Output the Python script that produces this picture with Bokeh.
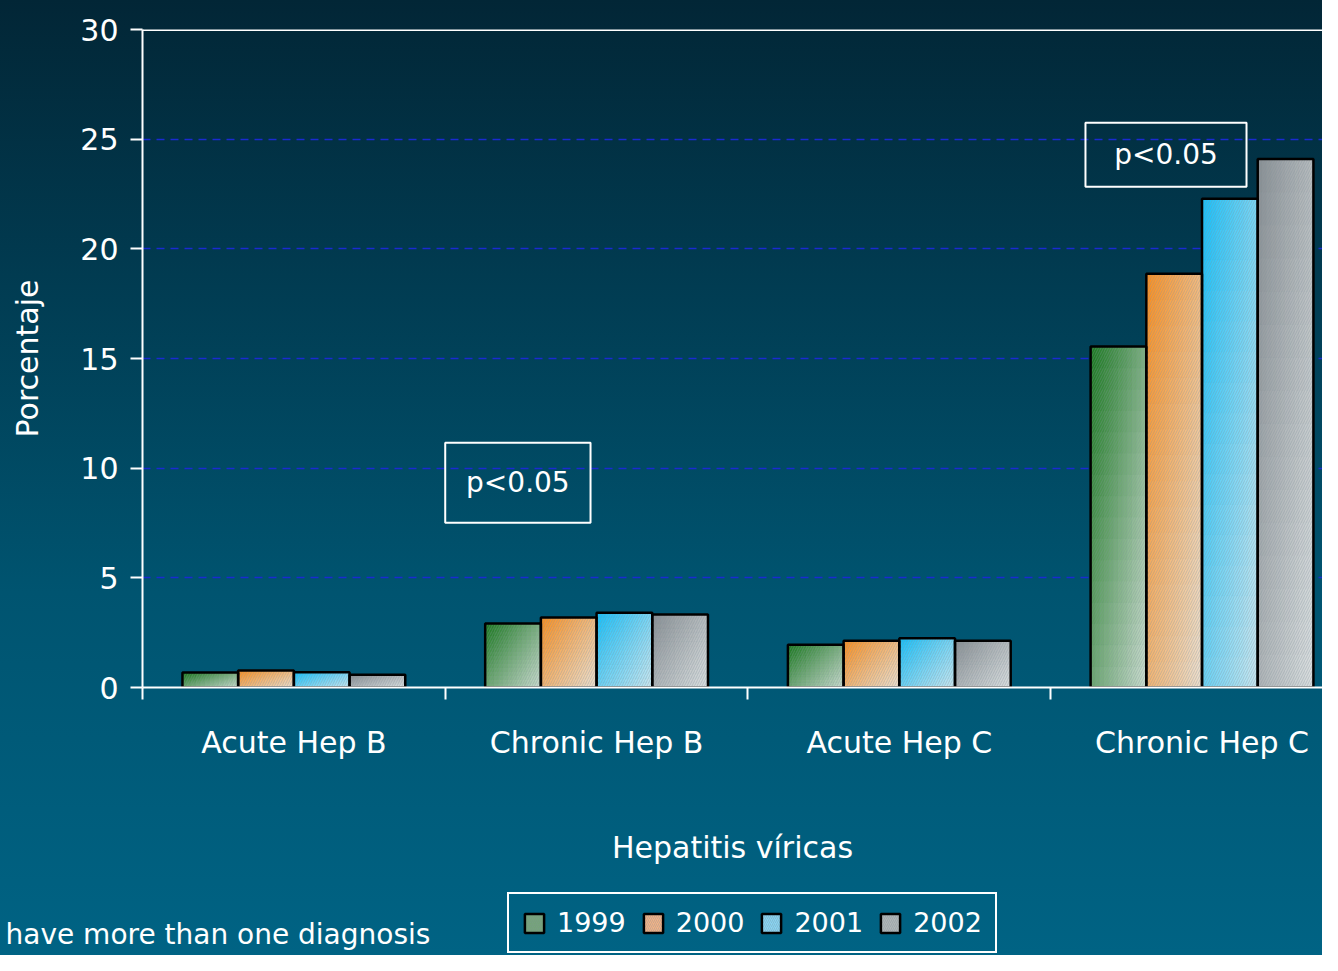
from bokeh.plotting import figure
from bokeh.layouts import column
from bokeh.models import (ColumnDataSource, FixedTicker, Legend, LegendItem,
                          Label, Span, Range1d)
from bokeh.embed import file_html
from bokeh.resources import INLINE
from bokeh.core.properties import value

# ---------------- data ----------------
categories = ["Acute Hep B", "Chronic Hep B", "Acute Hep C", "Chronic Hep C"]
years = ["1999", "2000", "2001", "2002"]
values_1999 = [0.68, 2.92, 1.95, 15.55]
values_2000 = [0.78, 3.19, 2.13, 18.86]
values_2001 = [0.70, 3.41, 2.25, 22.28]
values_2002 = [0.58, 3.33, 2.13, 24.10]
y_ticks = [0, 5, 10, 15, 20, 25, 30]
note_labels = ["p<0.05", "p<0.05"]
footnote = "have more than one diagnosis"

series = [values_1999, values_2000, values_2001, values_2002]

# ---------------- styling ----------------
FONT = "DejaVu Sans"
base_colors = [(24, 120, 28), (250, 142, 30), (20, 192, 250), (136, 142, 146)]
light = (236, 240, 240)
legend_colors = ["#74a478", "#f2b286", "#88d4f2", "#b0b5b6"]
W = 1322
H_MAIN, H_BOTTOM = 880, 75
bar_w = 0.184
offsets = [-1.5, -0.5, 0.5, 1.5]
NX, NY = 12, 16


def mix(c, t):
    r = [int(round(c[k] + (light[k] - c[k]) * t)) for k in range(3)]
    return "#%02x%02x%02x" % tuple(r)


p = figure(width=W, height=H_MAIN, output_backend="svg", toolbar_location=None,
           x_range=Range1d(0, 3.898), y_range=Range1d(0, 30),
           min_border_left=142, min_border_right=0, min_border_top=29,
           min_border_bottom=H_MAIN - 687)
p.background_fill_alpha = 0
p.border_fill_alpha = 0
p.outline_line_color = None
p.frame_align = False

# grid
p.xgrid.visible = False
p.ygrid.grid_line_color = "#1a2bd0"
p.ygrid.grid_line_width = 1.5
p.ygrid.grid_line_dash = "8 6"

# gradient cells for bars
cl, cr, cb, ct, cc = [], [], [], [], []
for si, vals in enumerate(series):
    for ci, v in enumerate(vals):
        xc = ci + 0.5 + offsets[si] * bar_w
        x0 = xc - bar_w / 2
        for ix in range(NX):
            for iy in range(NY):
                fx = (ix + 0.5) / NX
                fy = (iy + 0.5) / NY
                t = 0.55 * fx + 0.45 * (1 - fy)
                cl.append(x0 + ix * bar_w / NX)
                cr.append(x0 + (ix + 1) * bar_w / NX)
                cb.append(v * iy / NY)
                ct.append(v * (iy + 1) / NY)
                cc.append(mix(base_colors[si], 0.85 * t))
cells = ColumnDataSource(dict(left=cl, right=cr, bottom=cb, top=ct, color=cc))
p.quad(left="left", right="right", bottom="bottom", top="top", source=cells,
       fill_color="color", line_color="color", line_width=1)

# outlines + hatch
for si, vals in enumerate(series):
    xs = [ci + 0.5 + offsets[si] * bar_w for ci in range(len(categories))]
    p.vbar(x=xs, top=vals, width=bar_w, bottom=0, fill_alpha=0,
           line_color="black", line_width=2.5,
           hatch_pattern="/", hatch_color="#7d8f9c", hatch_alpha=0.35,
           hatch_scale=5, hatch_weight=1)

# top frame line
p.add_layout(Span(location=30, dimension="width", line_color="white", line_width=3))

# p<0.05 boxes
box_left = [1.0, 3.115]
box_right = [1.48, 3.647]
box_bottom = [7.51, 22.83]
box_top = [11.16, 25.75]
p.quad(left=box_left, right=box_right, bottom=box_bottom, top=box_top,
       fill_alpha=0, line_color="white", line_width=2)
p.text(x=[(a + b) / 2 for a, b in zip(box_left, box_right)],
       y=[(a + b) / 2 for a, b in zip(box_bottom, box_top)],
       text=note_labels, text_align="center", text_baseline="middle",
       text_font=value(FONT), text_font_size="28px", text_color="white")

# axes
ya = p.yaxis[0]
ya.ticker = FixedTicker(ticks=y_ticks)
ya.axis_line_color = "white"
ya.axis_line_width = 2
ya.major_tick_line_color = "white"
ya.major_tick_line_width = 2
ya.major_tick_out = 12
ya.major_tick_in = 0
ya.minor_tick_line_color = None
ya.major_label_text_color = "white"
ya.major_label_text_font = FONT
ya.major_label_text_font_size = "30px"
ya.major_label_standoff = 12
ya.axis_label = "Porcentaje"
ya.axis_label_text_font = FONT
ya.axis_label_text_font_size = "30px"
ya.axis_label_text_font_style = "normal"
ya.axis_label_text_color = "white"
ya.axis_label_standoff = 32

xa = p.xaxis[0]
xa.ticker = FixedTicker(ticks=[i + 0.5 for i in range(len(categories))],
                        minor_ticks=[float(i) for i in range(len(categories) + 1)])
xa.major_label_overrides = {i + 0.5: c for i, c in enumerate(categories)}
xa.axis_line_color = "white"
xa.axis_line_width = 2
xa.major_tick_line_color = None
xa.major_tick_out = 0
xa.major_tick_in = 0
xa.minor_tick_line_color = "white"
xa.minor_tick_line_width = 2
xa.minor_tick_out = 12
xa.minor_tick_in = 0
xa.major_label_text_color = "white"
xa.major_label_text_font = FONT
xa.major_label_text_font_size = "30px"
xa.major_label_standoff = 25
xa.axis_label = "Hepatitis víricas"
xa.axis_label_text_font = FONT
xa.axis_label_text_font_size = "30px"
xa.axis_label_text_font_style = "normal"
xa.axis_label_text_color = "white"
xa.axis_label_standoff = 67

# ---------------- bottom strip: legend + footnote ----------------
p2 = figure(width=W, height=H_BOTTOM, output_backend="svg", toolbar_location=None,
            x_range=Range1d(0, W), y_range=Range1d(0, H_BOTTOM),
            x_axis_type=None, y_axis_type=None,
            min_border_left=0, min_border_right=0, min_border_top=0, min_border_bottom=0)
p2.background_fill_alpha = 0
p2.border_fill_alpha = 0
p2.outline_line_color = None
p2.frame_align = False

# legend swatch renderers (hidden in the strip, only their legend glyphs show)
legend_items = []
for si, yr in enumerate(years):
    r = p2.vbar(x=list(range(len(categories))), top=series[si], width=0.5,
                fill_color=legend_colors[si],
                line_color="black", line_width=2.5,
                hatch_pattern="/", hatch_color="#7d8f9c", hatch_alpha=0.35,
                hatch_scale=4, hatch_weight=1)
    r.visible = False
    legend_items.append(LegendItem(label=yr, renderers=[r]))

legend = Legend(items=legend_items, orientation="horizontal", location=(507, 2),
                glyph_width=24, glyph_height=24, label_standoff=11, spacing=15,
                padding=13, margin=0, border_line_color="white", border_line_width=2,
                border_line_alpha=1.0,
                background_fill_alpha=0, label_text_color="white",
                inactive_fill_alpha=0,
                label_text_font=FONT, label_text_font_size="27px")
p2.add_layout(legend)

p2.add_layout(Label(x=5, y=5, text=footnote, text_color="white",
                    text_font=FONT, text_font_size="28px"))

layout = column(p, p2, spacing=0)
layout.styles = {"background": "linear-gradient(to bottom, #022636 0%, #013c52 30%, #005470 62%, #006384 100%)"}

open("out.html", "w").write(file_html(layout, INLINE))
